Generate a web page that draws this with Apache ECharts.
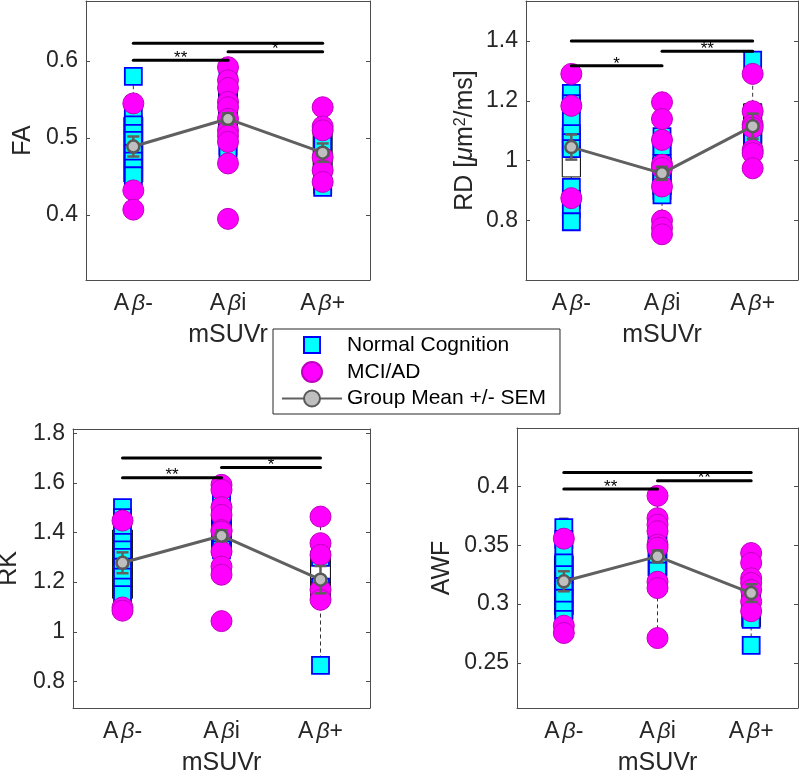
<!DOCTYPE html>
<html>
<head>
<meta charset="utf-8">
<script src="https://cdn.jsdelivr.net/npm/echarts@6/dist/echarts.min.js"></script>
<style>
  html, body { margin: 0; padding: 0; background: #fff; }
  #chart { width: 800px; height: 771px; }
</style>
</head>
<body>
<div id="chart"></div>
<script>
// groups on the x axis (rich text: italic beta)
const groups = ['A{i|β}-', 'A{i|β}i', 'A{i|β}+']

// FA: one array per group
const faNC = [[0.580, 0.533, 0.517, 0.506, 0.497, 0.480, 0.470, 0.461, 0.451], [0.585, 0.570, 0.550, 0.535, 0.520, 0.505, 0.490, 0.482], [0.505, 0.490, 0.470, 0.455, 0.440, 0.436]]
const faMCI = [[0.545, 0.432, 0.407], [0.592, 0.575, 0.565, 0.547, 0.540, 0.525, 0.510, 0.503, 0.495, 0.467, 0.395], [0.540, 0.515, 0.510, 0.475, 0.458, 0.443]]
const faMean = [0.489, 0.525, 0.481]
const faSem = [0.013, 0.007, 0.012]
const faBox = [[0.407, 0.443, 0.490, 0.527, 0.580], [0.467, 0.495, 0.525, 0.560, 0.592], [0.436, 0.455, 0.480, 0.510, 0.540]]
const faSig = [[0, 1, 0.601, '**'], [1, 2, 0.612, '*'], [0, 2, 0.623, '']]

// RD
const rdNC = [[1.225, 1.190, 1.130, 1.090, 1.060, 1.040, 0.910, 0.870, 0.840, 0.795], [1.080, 1.050, 1.020, 0.990, 0.960, 0.930, 0.900, 0.885], [1.336, 1.095, 1.080]]
const rdMCI = [[1.290, 1.183, 0.874], [1.195, 1.139, 1.069, 0.986, 0.975, 0.913, 0.799, 0.775, 0.753], [1.290, 1.165, 1.120, 1.110, 1.035, 1.025, 0.974]]
const rdMean = [1.045, 0.957, 1.115]
const rdSem = [0.042, 0.022, 0.042]
const rdBox = [[0.795, 0.945, 1.040, 1.110, 1.290], [0.753, 0.885, 0.960, 1.010, 1.195], [0.974, 1.020, 1.100, 1.190, 1.336]]
const rdSig = [[0, 1, 1.317, '*'], [1, 2, 1.366, '**'], [0, 2, 1.400, '']]

// RK
const rkNC = [[1.500, 1.460, 1.390, 1.360, 1.330, 1.300, 1.260, 1.220, 1.180, 1.150], [1.570, 1.540, 1.470, 1.440, 1.400, 1.360, 1.330], [1.300, 1.180, 0.865]]
const rkMCI = [[1.448, 1.098, 1.085], [1.592, 1.572, 1.502, 1.471, 1.410, 1.404, 1.323, 1.263, 1.230, 1.043], [1.464, 1.357, 1.310, 1.169, 1.129]]
const rkMean = [1.278, 1.387, 1.210]
const rkSem = [0.042, 0.022, 0.055]
const rkBox = [[1.085, 1.135, 1.280, 1.410, 1.500], [1.230, 1.310, 1.400, 1.470, 1.592], [0.865, 1.130, 1.200, 1.325, 1.464]]
const rkSig = [[0, 1, 1.621, '**'], [1, 2, 1.662, '*'], [0, 2, 1.700, '']]

// AWF
const awfNC = [[0.365, 0.355, 0.345, 0.335, 0.325, 0.315, 0.305, 0.295, 0.287], [0.352, 0.345, 0.335, 0.328], [0.318, 0.300, 0.287, 0.265]]
const awfMCI = [[0.3556, 0.2817, 0.2755], [0.392, 0.373, 0.3675, 0.362, 0.3505, 0.348, 0.319, 0.3137, 0.2712], [0.3434, 0.335, 0.322, 0.318, 0.312, 0.302, 0.294]]
const awfMean = [0.3194, 0.3406, 0.3094]
const awfSem = [0.0085, 0.005, 0.0075]
const awfBox = [[0.2755, 0.291, 0.320, 0.341, 0.373], [0.2712, 0.3236, 0.340, 0.358, 0.392], [0.265, 0.281, 0.305, 0.3236, 0.3434]]
const awfSig = [[0, 1, 0.3977, '**'], [1, 2, 0.4048, '**'], [0, 2, 0.4119, '']]

const panels = [
  { yName: 'FA', nc: faNC, mci: faMCI, mean: faMean, sem: faSem, box: faBox, sig: faSig },
  { yName: 'RD [{g|μ}m{s|2}/ms]', nc: rdNC, mci: rdMCI, mean: rdMean, sem: rdSem, box: rdBox, sig: rdSig },
  { yName: 'RK', nc: rkNC, mci: rkMCI, mean: rkMean, sem: rkSem, box: rkBox, sig: rkSig },
  { yName: 'AWF', nc: awfNC, mci: awfMCI, mean: awfMean, sem: awfSem, box: awfBox, sig: awfSig }
]

// layout (fixed rects, no auto shrinking for labels)
const grids = [
  { left: 86, top: 1, width: 284, height: 279, outerBoundsMode: 'none', containLabel: false },
  { left: 526, top: 1, width: 272, height: 279, outerBoundsMode: 'none', containLabel: false },
  { left: 73, top: 429, width: 297, height: 279, outerBoundsMode: 'none', containLabel: false },
  { left: 517, top: 428, width: 281, height: 280, outerBoundsMode: 'none', containLabel: false }
]
const yRanges = [[0.3156, 0.678], [0.6, 1.534], [0.693, 1.817], [0.2118, 0.4496]]
const yNameGaps = [50, 48, 51, 62]
const xNameGaps = [43, 43, 43, 43]

const FONT = 'Liberation Sans'
const TXT = '#262626'
const FRAME = '#4d4d4d'

const toPoints = arr => arr.flatMap((vals, gi) => vals.map(v => [gi, v]))

var chart = echarts.init(document.getElementById('chart'))

const xAxes = []
const yAxes = []
const series = []

panels.forEach((p, k) => {
  // bottom + top x axes
  xAxes.push({
    type: 'category', gridIndex: k, data: groups, position: 'bottom',
    axisLine: { lineStyle: { color: FRAME, width: 1 } },
    axisTick: { inside: true, length: 4, alignWithLabel: true, lineStyle: { color: FRAME } },
    axisLabel: {
      margin: 12, color: TXT, fontSize: 23, fontFamily: FONT,
      rich: { i: { fontStyle: 'italic', fontSize: 23, fontFamily: FONT, color: TXT, padding: [0, 0, 0, 3] } }
    },
    name: 'mSUVr', nameLocation: 'middle', nameGap: xNameGaps[k],
    nameTextStyle: { fontSize: 25, color: TXT, fontFamily: FONT }
  })
  xAxes.push({
    type: 'category', gridIndex: k, data: groups, position: 'top',
    axisLine: { lineStyle: { color: FRAME, width: 1 } },
    axisTick: { inside: true, length: 4, alignWithLabel: true, lineStyle: { color: FRAME } },
    axisLabel: { show: false }
  })
  // left + right y axes
  yAxes.push({
    type: 'value', gridIndex: k, min: yRanges[k][0], max: yRanges[k][1], position: 'left',
    splitLine: { show: false },
    axisLine: { show: true, lineStyle: { color: FRAME, width: 1 } },
    axisTick: { show: true, inside: true, length: 4, lineStyle: { color: FRAME } },
    axisLabel: { margin: 8, color: TXT, fontSize: 23, fontFamily: FONT, showMinLabel: false, showMaxLabel: false },
    name: p.yName, nameLocation: 'middle', nameGap: yNameGaps[k],
    nameTextStyle: {
      fontSize: 25, color: TXT, fontFamily: FONT,
      rich: {
        g: { fontStyle: 'italic', fontSize: 25, color: TXT, fontFamily: FONT },
        s: { fontSize: 16, color: TXT, fontFamily: FONT, verticalAlign: 'top', padding: [0, 0, 8, 0] }
      }
    }
  })
  yAxes.push({
    type: 'value', gridIndex: k, min: yRanges[k][0], max: yRanges[k][1], position: 'right',
    splitLine: { show: false },
    axisLine: { show: true, lineStyle: { color: FRAME, width: 1 } },
    axisTick: { show: true, inside: true, length: 4, lineStyle: { color: FRAME } },
    axisLabel: { show: false }
  })

  const xi = k * 2, yi = k * 2

  // box plots
  series.push({
    type: 'custom', name: 'box', xAxisIndex: xi, yAxisIndex: yi, z: 1, silent: true,
    data: p.box.map((b, gi) => [gi].concat(b)),
    encode: { x: 0, y: [1, 2, 3, 4, 5] },
    renderItem: (params, api) => {
      const x = api.value(0)
      const hw = api.size([1, 0])[0] * 0.1
      const pMin = api.coord([x, api.value(1)])
      const pQ1 = api.coord([x, api.value(2)])
      const pMed = api.coord([x, api.value(3)])
      const pQ3 = api.coord([x, api.value(4)])
      const pMax = api.coord([x, api.value(5)])
      const solid = { stroke: '#000', lineWidth: 1, fill: null }
      const dash = { stroke: '#000', lineWidth: 0.8, lineDash: [4, 3] }
      return {
        type: 'group', children: [
          { type: 'rect', shape: { x: pQ3[0] - hw, y: pQ3[1], width: hw * 2, height: pQ1[1] - pQ3[1] }, style: solid },
          { type: 'line', shape: { x1: pMed[0] - hw, y1: pMed[1], x2: pMed[0] + hw, y2: pMed[1] }, style: solid },
          { type: 'line', shape: { x1: pQ3[0], y1: pQ3[1], x2: pMax[0], y2: pMax[1] }, style: dash },
          { type: 'line', shape: { x1: pQ1[0], y1: pQ1[1], x2: pMin[0], y2: pMin[1] }, style: dash },
          { type: 'line', shape: { x1: pMax[0] - hw / 2, y1: pMax[1], x2: pMax[0] + hw / 2, y2: pMax[1] }, style: solid },
          { type: 'line', shape: { x1: pMin[0] - hw / 2, y1: pMin[1], x2: pMin[0] + hw / 2, y2: pMin[1] }, style: solid }
        ]
      }
    }
  })

  series.push({
    type: 'scatter', name: 'Normal Cognition', xAxisIndex: xi, yAxisIndex: yi, z: 2,
    symbol: 'rect', symbolSize: 17,
    itemStyle: { color: '#00ffff', borderColor: '#0000ff', borderWidth: 1.8, opacity: 1 },
    data: toPoints(p.nc)
  })

  series.push({
    type: 'scatter', name: 'MCI/AD', xAxisIndex: xi, yAxisIndex: yi, z: 3,
    symbol: 'circle', symbolSize: 21,
    itemStyle: { color: '#ff00ff', borderColor: '#c000c0', borderWidth: 1, opacity: 1 },
    data: toPoints(p.mci)
  })

  // SEM error bars
  series.push({
    type: 'custom', name: 'sem', xAxisIndex: xi, yAxisIndex: yi, z: 4, silent: true,
    data: p.mean.map((m, gi) => [gi, m, p.sem[gi]]),
    encode: { x: 0, y: 1 },
    renderItem: (params, api) => {
      const x = api.value(0), m = api.value(1), s = api.value(2)
      const top = api.coord([x, m + s]), bot = api.coord([x, m - s])
      const cw = 6
      const st = { stroke: '#606060', lineWidth: 2.5 }
      return {
        type: 'group', children: [
          { type: 'line', shape: { x1: top[0], y1: top[1], x2: bot[0], y2: bot[1] }, style: st },
          { type: 'line', shape: { x1: top[0] - cw, y1: top[1], x2: top[0] + cw, y2: top[1] }, style: st },
          { type: 'line', shape: { x1: bot[0] - cw, y1: bot[1], x2: bot[0] + cw, y2: bot[1] }, style: st }
        ]
      }
    }
  })

  series.push({
    type: 'line', name: 'Group Mean +/- SEM', xAxisIndex: xi, yAxisIndex: yi, z: 5,
    symbol: 'circle', symbolSize: 12, showAllSymbol: true,
    lineStyle: { color: '#606060', width: 3 },
    itemStyle: { color: '#bfbfbf', borderColor: '#595959', borderWidth: 2.5 },
    data: p.mean
  })

  // significance bars
  const sig = p.sig
  series.push({
    type: 'custom', name: 'sig', xAxisIndex: xi, yAxisIndex: yi, z: 6, silent: true,
    data: sig.map(s => [s[0], s[1], s[2]]),
    encode: { x: [0, 1], y: 2 },
    renderItem: (params, api) => {
      const a = api.coord([api.value(0), api.value(2)])
      const b = api.coord([api.value(1), api.value(2)])
      const label = sig[params.dataIndex][3]
      return {
        type: 'group', children: [
          { type: 'line', shape: { x1: a[0], y1: a[1], x2: b[0], y2: b[1] }, style: { stroke: '#000', lineWidth: 3, lineCap: 'round' } },
          { type: 'text', style: { text: label, x: (a[0] + b[0]) / 2, y: a[1] - 2, align: 'center', verticalAlign: 'middle', fontSize: 17, fontFamily: FONT, fill: '#000' } }
        ]
      }
    }
  })
})

chart.setOption({
  animation: false,
  backgroundColor: '#fff',
  grid: grids,
  xAxis: xAxes,
  yAxis: yAxes,
  legend: {
    left: 273, top: 329, orient: 'vertical',
    backgroundColor: '#fff', borderColor: '#262626', borderWidth: 1,
    padding: [5, 14, 5, 8], itemGap: 5, itemWidth: 60, itemHeight: 20,
    textStyle: { fontSize: 21, color: '#000', fontFamily: FONT },
    data: [
      { name: 'Normal Cognition', icon: 'path://M0,0M2,2L18,2L18,18L2,18ZM20,20' },
      { name: 'MCI/AD' },
      { name: 'Group Mean +/- SEM' }
    ]
  },
  series: series
})
</script>
</body>
</html>
